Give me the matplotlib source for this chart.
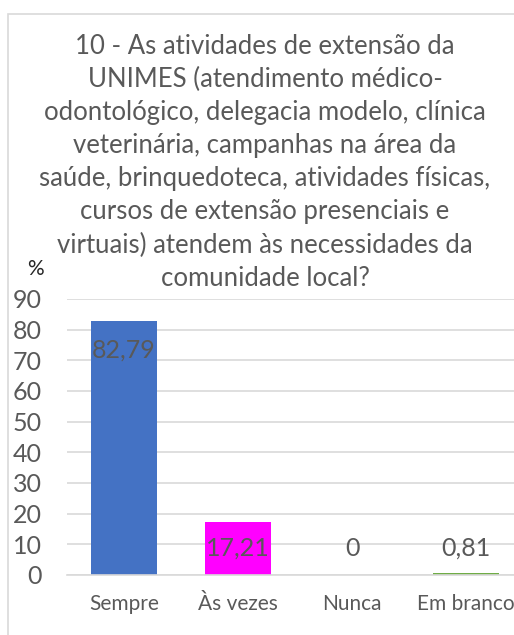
import matplotlib.pyplot as plt
from matplotlib.patches import Rectangle
import numpy as np

# Data
categories = ["Sempre", "Às vezes", "Nunca", "Em branco"]
values = [82.79, 17.21, 0, 0.81]
value_labels = ["82,79", "17,21", "0", "0,81"]
bar_colors = ["#4472C4", "#FF00FF", "#A5A5A5", "#70AD47"]
yticks = list(range(0, 100, 10))
title_lines = ["10 - As atividades de extensão da",
               "UNIMES (atendimento médico-",
               "odontológico, delegacia modelo, clínica",
               "veterinária, campanhas na área da",
               "saúde, brinquedoteca, atividades físicas,",
               "cursos de extensão presenciais e",
               "virtuais) atendem às necessidades da",
               "comunidade local?"]

plt.rcParams['font.family'] = ['Lato', 'DejaVu Sans']
text_color = "#595959"
W, H = 514, 635

fig = plt.figure(figsize=(W / 100, H / 100), dpi=100)

# chart border (runs off the right and bottom edges)
fig.patches.append(Rectangle((8 / W, -0.1), 1.2, 1 - 14 / H + 0.1,
                             transform=fig.transFigure, fill=False,
                             edgecolor="#D9D9D9", lw=1.2))

ax = fig.add_axes([67 / W, (H - 575) / H, (523 - 67) / W, (575 - 299) / H])
x = np.arange(len(categories))
ax.bar(x, values, width=0.58, color=bar_colors, zorder=3)

ax.set_ylim(0, 90)
ax.set_xlim(-0.5, len(categories) - 0.5)
ax.set_yticks(yticks)
ax.set_yticklabels([str(t) for t in yticks], fontsize=18, color=text_color)
ax.set_xticks(x)
ax.set_xticklabels(categories, fontsize=15, color=text_color)
ax.tick_params(length=0, axis='y', pad=18)
ax.tick_params(length=0, axis='x', pad=14)
ax.grid(axis='y', color="#D9D9D9", lw=1.2, zorder=0)
for s in ["top", "right", "left"]:
    ax.spines[s].set_visible(False)
ax.spines["bottom"].set_color("#D9D9D9")
ax.spines["bottom"].set_linewidth(1.2)
ax.spines["bottom"].set_zorder(4)

# data labels (inside end, kept inside the plot area)
for i, v in enumerate(values):
    ax.text(x[i], max(v - 9.4, 8.8), value_labels[i], ha='center', va='center',
            fontsize=18, color=text_color, zorder=5)

# title, one line at a time
for k, line in enumerate(title_lines):
    fig.text(265 / W, 1 - (46 + 33.2 * k) / H, line, ha='center', va='center',
             fontsize=18.5, color=text_color)
fig.text(35 / W, 1 - 269 / H, "%", ha='center', va='center', fontsize=15,
         color="#262626")

fig.savefig("out.png", dpi=100)
